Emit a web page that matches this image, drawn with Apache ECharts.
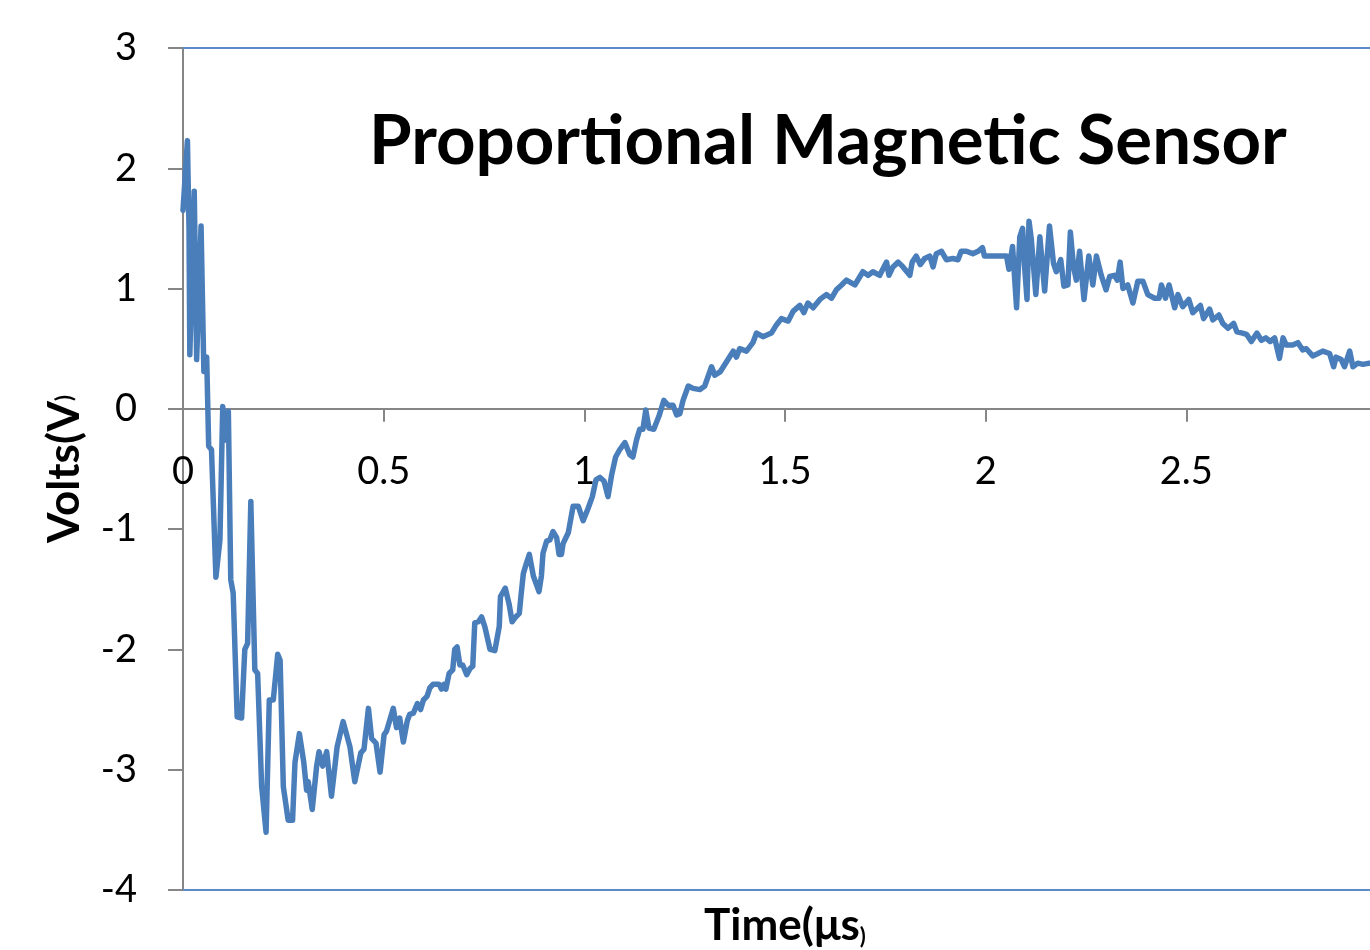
<!DOCTYPE html>
<html>
<head>
<meta charset="utf-8">
<script src="https://cdn.jsdelivr.net/npm/echarts@6/dist/echarts.min.js"></script>
<style>html,body{margin:0;padding:0;background:#fff}#c{width:1370px;height:950px}</style>
</head>
<body>
<div id="c"></div>
<script>
const titleText = 'Proportional Magnetic Sensor';
const xName = 'Time(μs';
const yName = 'Volts(V';
const yTicks = [-4, -3, -2, -1, 0, 1, 2, 3];
const xTicks = [0, 0.5, 1, 1.5, 2, 2.5, 3];

const times = [
0.000,0.011,0.015,0.017,0.028,0.034,0.045,0.052,0.059,0.064,0.071,0.082,0.092,0.099,0.106,0.113,0.119,0.125,0.135,0.146,
0.154,0.161,0.169,0.179,0.186,0.196,0.207,0.215,0.225,0.236,0.242,0.250,0.262,0.273,0.279,0.290,0.301,0.308,0.312,0.322,
0.333,0.339,0.348,0.358,0.370,0.384,0.399,0.416,0.428,0.443,0.451,0.462,0.470,0.481,0.491,0.501,0.507,0.524,0.532,0.540,
0.549,0.559,0.565,0.574,0.584,0.592,0.599,0.608,0.615,0.623,0.638,0.644,0.650,0.655,0.663,0.672,0.677,0.683,0.690,0.697,
0.707,0.715,0.722,0.727,0.736,0.744,0.752,0.765,0.777,0.788,0.791,0.803,0.813,0.820,0.829,0.838,0.842,0.848,0.856,0.863,
0.873,0.887,0.893,0.897,0.906,0.914,0.922,0.931,0.937,0.943,0.947,0.960,0.972,0.985,0.997,1.009,1.020,1.029,1.039,1.049,
1.059,1.068,1.078,1.088,1.101,1.113,1.121,1.130,1.138,1.146,1.153,1.161,1.173,1.186,1.198,1.209,1.221,1.230,1.238,1.246,
1.259,1.271,1.288,1.300,1.317,1.325,1.339,1.354,1.371,1.379,1.387,1.404,1.420,1.429,1.445,1.466,1.479,1.491,1.508,1.520,
1.537,1.547,1.557,1.570,1.587,1.603,1.616,1.628,1.641,1.653,1.674,1.694,1.707,1.719,1.736,1.753,1.759,1.769,1.782,1.794,
1.811,1.817,1.827,1.837,1.848,1.861,1.869,1.877,1.890,1.902,1.918,1.931,1.939,1.952,1.968,1.981,1.992,1.997,2.052,2.058,
2.067,2.077,2.085,2.092,2.097,2.103,2.108,2.114,2.125,2.135,2.147,2.159,2.169,2.176,2.187,2.195,2.205,2.211,2.219,2.226,
2.234,2.245,2.257,2.267,2.276,2.288,2.300,2.309,2.321,2.328,2.335,2.342,2.354,2.367,2.379,2.392,2.404,2.421,2.432,2.438,
2.448,2.457,2.471,2.479,2.491,2.506,2.516,2.535,2.543,2.558,2.566,2.581,2.591,2.604,2.618,2.626,2.640,2.650,2.662,2.676,
2.687,2.698,2.709,2.720,2.732,2.741,2.749,2.765,2.778,2.790,2.799,2.815,2.828,2.840,2.857,2.867,2.873,2.886,2.894,2.907,
2.915,2.927,2.940,2.956,2.980,3.000
];
const volts = [
1.65,2.23,1.50,0.45,1.81,0.41,1.52,0.31,0.43,-0.31,-0.34,-1.40,-1.09,0.02,-0.26,-0.02,-1.42,-1.53,-2.56,-2.57,
-2.00,-1.95,-0.77,-2.17,-2.20,-3.14,-3.52,-2.42,-2.42,-2.04,-2.09,-3.14,-3.42,-3.42,-2.94,-2.70,-2.94,-3.17,-3.10,-3.33,
-2.97,-2.85,-2.97,-2.85,-3.22,-2.81,-2.60,-2.81,-3.10,-2.86,-2.83,-2.49,-2.74,-2.78,-3.02,-2.71,-2.68,-2.49,-2.65,-2.57,
-2.77,-2.59,-2.54,-2.53,-2.45,-2.50,-2.42,-2.39,-2.32,-2.29,-2.29,-2.33,-2.29,-2.33,-2.20,-2.17,-2.00,-1.98,-2.13,-2.13,
-2.21,-2.16,-2.14,-1.78,-1.77,-1.73,-1.81,-2.00,-2.01,-1.81,-1.56,-1.49,-1.63,-1.77,-1.73,-1.70,-1.56,-1.37,-1.28,-1.21,
-1.39,-1.52,-1.39,-1.20,-1.10,-1.09,-1.02,-1.07,-1.21,-1.21,-1.12,-1.03,-0.81,-0.81,-0.93,-0.83,-0.73,-0.59,-0.57,-0.60,
-0.73,-0.55,-0.40,-0.34,-0.28,-0.38,-0.40,-0.26,-0.17,-0.17,-0.01,-0.16,-0.17,-0.06,0.07,0.03,0.03,-0.05,-0.04,0.07,
0.19,0.17,0.16,0.19,0.35,0.28,0.31,0.39,0.48,0.43,0.50,0.48,0.55,0.63,0.60,0.63,0.70,0.75,0.73,0.81,
0.86,0.80,0.88,0.84,0.91,0.95,0.92,0.99,1.03,1.07,1.03,1.14,1.11,1.14,1.11,1.22,1.11,1.18,1.22,1.18,
1.11,1.22,1.27,1.20,1.25,1.27,1.18,1.29,1.31,1.24,1.25,1.24,1.31,1.31,1.29,1.31,1.34,1.27,1.27,1.16,
1.35,0.84,1.43,1.50,1.18,0.91,1.56,1.40,0.95,1.43,0.98,1.52,1.21,1.14,1.24,1.02,1.03,1.47,1.18,1.07,
1.31,0.91,1.27,1.03,1.27,1.11,0.99,1.10,1.11,1.07,1.22,1.00,1.03,0.88,1.06,1.06,0.95,0.92,0.92,1.03,
0.92,1.03,0.84,0.95,0.85,0.91,0.80,0.86,0.75,0.83,0.74,0.78,0.71,0.67,0.71,0.64,0.63,0.62,0.56,0.63,
0.57,0.59,0.56,0.59,0.42,0.59,0.53,0.53,0.55,0.49,0.50,0.44,0.46,0.48,0.46,0.35,0.43,0.41,0.35,0.48,
0.35,0.38,0.37,0.38,0.37,0.37
];

const data = times.map((t, i) => [t, volts[i]]);
const FONT = 'Lato';
const gray = '#868686';
const blue = '#5b8ac6';
const GRID_TOP = 48, GRID_BOTTOM = 60, H = 950;
const plotH = H - GRID_TOP - GRID_BOTTOM;
const zeroOffset = -plotH * (0 - yTicks[0]) / (yTicks[yTicks.length - 1] - yTicks[0]);

const chart = echarts.init(document.getElementById('c'), null, {renderer: 'canvas'});
chart.setOption({
  animation: false,
  backgroundColor: '#ffffff',
  title: {
    text: titleText,
    left: 364,
    top: 102,
    textStyle: {fontFamily: FONT, fontWeight: 'bold', fontSize: 69, color: '#000'}
  },
  grid: {left: 183, top: GRID_TOP, bottom: GRID_BOTTOM, right: -17, containLabel: false, outerBoundsMode: 'none'},
  xAxis: [
    {
      type: 'value', min: xTicks[0], max: xTicks[xTicks.length - 1], interval: 0.5,
      position: 'bottom', offset: zeroOffset,
      axisLine: {show: true, onZero: false, lineStyle: {color: gray, width: 2}},
      axisTick: {show: true, inside: false, length: 13, lineStyle: {color: gray, width: 2}},
      axisLabel: {show: true, margin: 44, fontFamily: FONT, fontSize: 38, color: '#000',
        formatter: v => String(v)},
      splitLine: {show: false}
    },
    {
      type: 'value', min: xTicks[0], max: xTicks[xTicks.length - 1], position: 'bottom',
      axisLine: {show: true, onZero: false, lineStyle: {color: blue, width: 2}},
      axisTick: {show: false}, axisLabel: {show: false}, splitLine: {show: false},
      name: '{a|' + xName + '}{b|)}', nameLocation: 'middle', nameGap: 14,
      nameTextStyle: {rich: {
        a: {fontFamily: FONT, fontWeight: 'bold', fontSize: 44, color: '#000'},
        b: {fontFamily: FONT, fontWeight: 'bold', fontSize: 22, color: '#000', verticalAlign: 'bottom'}
      }}
    },
    {
      type: 'value', min: xTicks[0], max: xTicks[xTicks.length - 1], position: 'top',
      axisLine: {show: true, onZero: false, lineStyle: {color: blue, width: 2}},
      axisTick: {show: false}, axisLabel: {show: false}, splitLine: {show: false}
    }
  ],
  yAxis: {
    type: 'value', min: yTicks[0], max: yTicks[yTicks.length - 1], interval: 1,
    axisLine: {show: true, onZero: false, lineStyle: {color: gray, width: 2}},
    axisTick: {show: true, inside: false, length: 15, lineStyle: {color: gray, width: 2}},
    axisLabel: {margin: 46, fontFamily: FONT, fontSize: 38, color: '#000'},
    splitLine: {show: false},
    name: '{a|' + yName + '}{b|)}', nameLocation: 'middle', nameGap: 96,
    nameTextStyle: {rich: {
      a: {fontFamily: FONT, fontWeight: 'bold', fontSize: 44, color: '#000'},
      b: {fontFamily: FONT, fontWeight: 'bold', fontSize: 22, color: '#000'}
    }}
  },
  series: [{
    type: 'line', xAxisIndex: 0, data: data, showSymbol: false, symbol: 'none',
    lineStyle: {color: '#4a7ebb', width: 5.5, cap: 'round', join: 'round'},
    z: 3
  }]
});
</script>
</body>
</html>
